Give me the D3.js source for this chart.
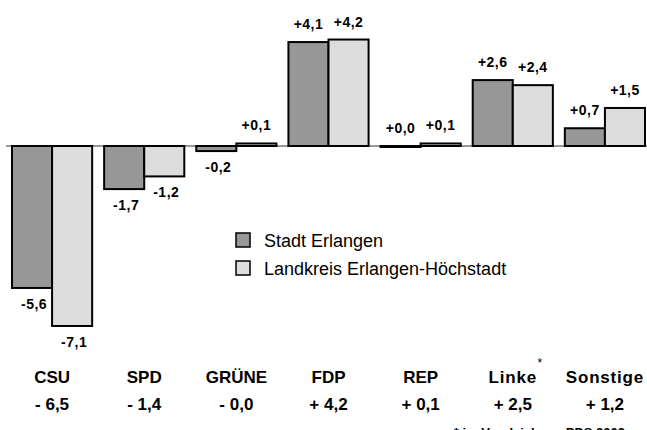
<!DOCTYPE html>
<html>
<head>
<meta charset="utf-8">
<script src="https://cdn.jsdelivr.net/npm/d3@7"></script>
<style>
  body { margin: 0; background: #fff; }
  text { font-family: "Liberation Sans", Arial, sans-serif; fill: #000; }
</style>
</head>
<body>
<div id="chart"></div>
<script>
const parties = ["CSU", "SPD", "GRÜNE", "FDP", "REP", "Linke", "Sonstige"];
const series = ["Stadt Erlangen", "Landkreis Erlangen-Höchstadt"];
const stadt = [-5.6, -1.7, -0.2, 4.1, 0.0, 2.6, 0.7];
const landkreis = [-7.1, -1.2, 0.1, 4.2, 0.1, 2.4, 1.5];
const totals = ["- 6,5", "- 1,4", "- 0,0", "+ 4,2", "+ 0,1", "+ 2,5", "+ 1,2"];

const width = 647, height = 430;
const colors = ["#979797", "#dddddd"];

const svg = d3.select("#chart")
  .append("svg")
  .attr("width", width)
  .attr("height", height);

const x = d3.scaleBand()
  .domain(parties)
  .range([12, 645])
  .paddingInner(0.13)
  .paddingOuter(0);

const x1 = d3.scaleBand()
  .domain(series)
  .range([0, x.bandwidth()]);

const y = d3.scaleLinear()
  .domain([-8, 5])
  .range([146 + 8 * 25.35, 146 - 5 * 25.35]);

const fmt = v => (v >= 0 ? "+" : "-") + d3.format(".1f")(Math.abs(v)).replace(".", ",");

// zero line
svg.append("line")
  .attr("x1", 6).attr("x2", width)
  .attr("y1", y(0)).attr("y2", y(0))
  .attr("stroke", "#333")
  .attr("stroke-width", 1);

const rows = [];
parties.forEach((p, i) => {
  rows.push({ party: p, s: series[0], v: stadt[i], c: colors[0] });
  rows.push({ party: p, s: series[1], v: landkreis[i], c: colors[1] });
});

// bars
svg.selectAll("rect.bar")
  .data(rows)
  .enter()
  .append("rect")
  .attr("class", "bar")
  .attr("x", d => x(d.party) + x1(d.s))
  .attr("width", x1.bandwidth())
  .attr("y", d => Math.min(y(d.v), y(0)))
  .attr("height", d => Math.max(1, Math.abs(y(d.v) - y(0))))
  .attr("fill", d => d.c)
  .attr("stroke", "#000")
  .attr("stroke-width", 2);

// value labels
svg.selectAll("text.val")
  .data(rows)
  .enter()
  .append("text")
  .attr("class", "val")
  .attr("x", d => x(d.party) + x1(d.s) + x1.bandwidth() / 2 + (d.v < 0 ? 2 : 0))
  .attr("y", d => d.v < 0 ? y(d.v) + 21 : y(d.v) - 13)
  .attr("text-anchor", "middle")
  .style("font-size", "14px")
  .style("font-weight", "bold")
  .style("letter-spacing", "0.5px")
  .text(d => fmt(d.v));

// category labels
svg.selectAll("text.cat")
  .data(parties)
  .enter()
  .append("text")
  .attr("class", "cat")
  .attr("x", d => x(d) + x.bandwidth() / 2)
  .attr("y", 383)
  .attr("text-anchor", "middle")
  .style("font-size", "17px")
  .style("font-weight", "bold")
  .style("letter-spacing", d => (d === "Linke" || d === "Sonstige") ? "0.8px" : "0px")
  .text(d => d);

// asterisk on Linke
svg.append("text")
  .attr("x", x("Linke") + x.bandwidth() / 2 + 27)
  .attr("y", 367)
  .attr("text-anchor", "middle")
  .style("font-size", "12px")
  .text("*");

// totals row
svg.selectAll("text.tot")
  .data(totals)
  .enter()
  .append("text")
  .attr("class", "tot")
  .attr("x", (d, i) => x(parties[i]) + x.bandwidth() / 2)
  .attr("y", 410)
  .attr("text-anchor", "middle")
  .style("font-size", "17px")
  .style("font-weight", "bold")
  .text(d => d);

// footnote (cut off at the bottom edge, as in the original)
svg.append("text")
  .attr("x", 625)
  .attr("y", 437)
  .attr("text-anchor", "end")
  .style("font-size", "13px")
  .style("font-weight", "bold")
  .text("* im Vergleich zur PDS 2002");

// legend
const legend = svg.append("g")
  .attr("transform", "translate(235, 232)");

series.forEach((s, i) => {
  const g = legend.append("g").attr("transform", `translate(0, ${i * 28})`);
  g.append("rect")
    .attr("x", 1).attr("y", 1)
    .attr("width", 14).attr("height", 14)
    .attr("fill", colors[i])
    .attr("stroke", "#000")
    .attr("stroke-width", 1.5);
  g.append("text")
    .attr("x", 29)
    .attr("y", 15)
    .style("font-size", "18px")
    .text(s);
});
</script>
</body>
</html>
